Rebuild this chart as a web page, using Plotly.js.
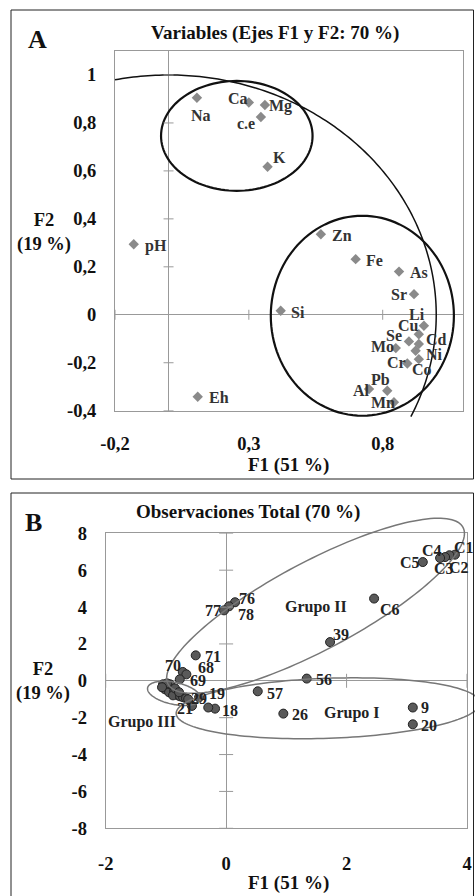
<!DOCTYPE html>
<html><head><meta charset="utf-8">
<script src="https://cdn.plot.ly/plotly-3.0.1.min.js"></script>
<style>html,body{margin:0;padding:0;background:#fff}#chart{width:475px;height:896px}</style>
</head><body><div id="chart"></div>
<script>
// ---------- Panel A: variables ----------
const varNames = ['Na','Ca','Mg','c.e','K','Zn','pH','Fe','As','Sr','Si','Eh','Li','Cu','Se','Cd','Ni','Mo','Co','Cr','Pb','Al','Mn'];
const varF1 = [0.106,0.300,0.360,0.345,0.370,0.569,-0.130,0.699,0.861,0.917,0.419,0.109,0.954,0.935,0.898,0.935,0.923,0.849,0.935,0.892,0.817,0.749,0.842];
const varF2 = [0.905,0.885,0.875,0.825,0.617,0.336,0.294,0.232,0.180,0.086,0.017,-0.342,-0.046,-0.081,-0.111,-0.122,-0.150,-0.139,-0.185,-0.203,-0.317,-0.310,-0.365];
// label offsets from the marker, in px [right, down] (style only)
const varLabelOff = [[4,18],[-11,-4],[16,1],[-15,7],[12,-9],[21,1],[22,2],[19,1],[20,1],[-15,0],[17,2],[21,1],
  [-7,-11],[-10,-9],[-15,-6],[18,-5],[19,4],[-13,-2],[3,10],[-11,-1],[-7,-11],[-8,1],[-11,0]];

// ---------- Panel B: observations ----------
const obsLabels = ['C1','C2','C3','C4','C5','C6','39','76','78','77','71','70','68','69','56','57','26','9','20','18','','21','29','19'];
const obsF1 = [3.80,3.708,3.636,3.553,3.266,2.457,1.726,0.148,0.048,-0.035,-0.505,-0.72,-0.66,-0.77,1.339,0.525,0.95,3.10,3.10,-0.184,-0.297,-0.567,-0.63,-0.45];
const obsF2 = [6.84,6.81,6.71,6.66,6.44,4.46,2.10,4.26,4.04,3.82,1.38,0.48,0.35,0.08,0.12,-0.57,-1.78,-1.45,-2.36,-1.51,-1.45,-1.36,-1.0,-0.9];
const obsLabelOff = [[9,-7],[10,12],[-1,11],[-8,-8],[-13,0],[16,11],[11,-8],[12,-4],[17,8],[-11,0],[17,1],[-10,-6],
  [20,-7],[18,1],[17,1],[17,2],[17,1],[12,0],[16,1],[15,2],[0,0],[-7,3],[11,-1],[18,-4]];
// unlabelled observations of the dense Grupo III cluster
const grp3F1 = [-1.048,-0.998,-0.965,-0.932,-0.899,-1.015,-0.948,-0.865,-0.832,-0.799,-0.882,-0.766,-0.716,-0.666,-0.932,-0.982,-0.849,-0.782,-1.065];
const grp3F2 = [-0.19,-0.30,-0.41,-0.35,-0.52,-0.46,-0.62,-0.57,-0.68,-0.79,-0.79,-0.84,-0.89,-0.95,-0.19,-0.14,-0.41,-0.62,-0.35];
const groupNames = ['Grupo II','Grupo I','Grupo III'];
const groupF1 = [1.485,2.086,-1.40];
const groupF2 = [4.0,-1.75,-2.23];

// ---------- ticks ----------
const xTickValsA = [-0.2,0.3,0.8], xTickTextA = ['-0,2','0,3','0,8'];
const yTickValsA = [-0.4,-0.2,0,0.2,0.4,0.6,0.8,1], yTickTextA = ['-0,4','-0,2','0','0,2','0,4','0,6','0,8','1'];
const xTickValsB = [-2,0,2,4], xTickTextB = ['-2','0','2','4'];
const yTickValsB = [-8,-6,-4,-2,0,2,4,6,8], yTickTextB = ['-8','-6','-4','-2','0','2','4','6','8'];

const W = 475, H = 896;
const FONT = 'Liberation Serif, Times New Roman, serif';
const axA = {x:[-0.2,1.1], y:[-0.4,1.1], dx:[115/W,463/W], dy:[(H-410.7)/H,(H-51)/H]};
const axB = {x:[-2,4], y:[-8,8], dx:[105.7/W,467/W], dy:[(H-828.3)/H,(H-533.3)/H]};

function toPaper(ax,x,y){
  return [ax.dx[0]+(x-ax.x[0])/(ax.x[1]-ax.x[0])*(ax.dx[1]-ax.dx[0]),
          ax.dy[0]+(y-ax.y[0])/(ax.y[1]-ax.y[0])*(ax.dy[1]-ax.dy[0])];
}
function pathFrom(pts,close){ return 'M'+pts.map(p=>p[0].toFixed(5)+','+p[1].toFixed(5)).join('L')+(close?'Z':''); }

const shapes = [];
// correlation circle (unit circle) arc
(function(){
  const t0 = Math.asin(-0.425), t1 = Math.acos(-0.2), pts=[];
  for(let i=0;i<=160;i++){const t=t0+(t1-t0)*i/160; pts.push(toPaper(axA,Math.cos(t),Math.sin(t)));}
  shapes.push({type:'path',xref:'paper',yref:'paper',path:pathFrom(pts,false),line:{color:'#111',width:1.5}});
})();
// group ellipses panel A (data space)
const ellA = [[0.255,0.746,0.283,0.229],[0.724,-0.004,0.342,0.417]];
ellA.forEach(e=>{
  const pts=[]; for(let i=0;i<=120;i++){const t=2*Math.PI*i/120; pts.push(toPaper(axA,e[0]+e[2]*Math.cos(t),e[1]+e[3]*Math.sin(t)));}
  shapes.push({type:'path',xref:'paper',yref:'paper',path:pathFrom(pts,true),line:{color:'#111',width:2.2}});
});
// group ellipses panel B: centre in data, semi-axes in px, tilt in degrees
const ellB = [[1.485,4.07,167,44,-28],[1.693,-1.49,152,30,-2],[-0.865,-0.68,27,11,12]];
ellB.forEach(e=>{
  const c=toPaper(axB,e[0],e[1]), th=e[4]*Math.PI/180, pts=[];
  for(let i=0;i<=160;i++){const t=2*Math.PI*i/160, ex=e[2]*Math.cos(t), ey=e[3]*Math.sin(t);
    const rx=ex*Math.cos(th)-ey*Math.sin(th), ry=ex*Math.sin(th)+ey*Math.cos(th);
    pts.push([c[0]+rx/W,c[1]-ry/H]);}
  shapes.push({type:'path',xref:'paper',yref:'paper',path:pathFrom(pts,true),line:{color:'#777',width:1.5}});
});
// tick marks crossing the zero axes
function axisTicks(xr,yr,yvals,xvals,len){
  yvals.forEach(v=>{ if(v!==0) shapes.push({type:'line',xref:xr,yref:yr,xsizemode:'pixel',xanchor:0,x0:-len,x1:len,y0:v,y1:v,line:{color:'#999',width:1}}); });
  xvals.forEach(v=>{ if(v!==0) shapes.push({type:'line',xref:xr,yref:yr,ysizemode:'pixel',yanchor:0,y0:-len,y1:len,x0:v,x1:v,line:{color:'#999',width:1}}); });
}
axisTicks('x','y',yTickValsA,xTickValsA,5);
axisTicks('x2','y2',yTickValsB,xTickValsB,7);
// panel frames
shapes.push({type:'rect',xref:'paper',yref:'paper',x0:11/W,x1:473.5/W,y0:1-479/H,y1:1-10/H,line:{color:'#222',width:1}});
shapes.push({type:'rect',xref:'paper',yref:'paper',x0:11/W,x1:473.5/W,y0:-0.01,y1:1-493/H,line:{color:'#222',width:1}});

const traces = [
  {type:'scatter',mode:'markers',x:varF1,y:varF2,cliponaxis:false,
   marker:{symbol:'diamond',size:8,color:'#8a8a8a'},xaxis:'x',yaxis:'y',hoverinfo:'skip'},
  {type:'scatter',mode:'markers',x:grp3F1,y:grp3F2,cliponaxis:false,
   marker:{symbol:'circle',size:9,color:'#555',line:{color:'#222',width:1}},xaxis:'x2',yaxis:'y2',hoverinfo:'skip'},
  {type:'scatter',mode:'markers',x:obsF1,y:obsF2,cliponaxis:false,
   marker:{symbol:'circle',size:9,color:'#5a5a5a',line:{color:'#222',width:1}},xaxis:'x2',yaxis:'y2',hoverinfo:'skip'}
];

function axis(dom,range,vals,text,anchor,standoff){
  return {domain:dom,range:range,tickmode:'array',tickvals:vals,ticktext:text,ticks:'',showgrid:false,
    zeroline:true,zerolinecolor:'#999',zerolinewidth:1,showline:true,mirror:true,linecolor:'#999',linewidth:1,
    tickfont:{family:FONT,size:18.5,color:'#111',weight:'bold'},ticklabelstandoff:standoff,anchor:anchor,fixedrange:true};
}
const ann = (x,y,text,size)=>({xref:'paper',yref:'paper',x:x/W,y:1-y/H,text:text,showarrow:false,
  xanchor:'center',yanchor:'middle',font:{family:FONT,size:size,color:'#111',weight:'bold'}});
const annotations = [
  ann(275,33,'Variables (Ejes F1 y F2: 70 %)',19),
  ann(37,40,'A',26),
  ann(288,465,'F1 (51 %)',19),
  ann(44,233,'F2<br>(19 %)',18.5),
  ann(248,512,'Observaciones Total (70 %)',19),
  ann(33,522,'B',26),
  ann(288,883,'F1 (51 %)',19),
  ann(43,681.5,'F2<br>(19 %)',18.5)
];
const lblFont = c=>({family:FONT,size:16,color:c,weight:'bold'});
varNames.forEach((n,i)=>annotations.push({xref:'x',yref:'y',x:varF1[i],y:varF2[i],text:n,showarrow:false,
  xanchor:'center',yanchor:'middle',xshift:varLabelOff[i][0],yshift:-varLabelOff[i][1],font:lblFont('#333')}));
obsLabels.forEach((n,i)=>{ if(n) annotations.push({xref:'x2',yref:'y2',x:obsF1[i],y:obsF2[i],text:n,showarrow:false,
  xanchor:'center',yanchor:'middle',xshift:obsLabelOff[i][0],yshift:-obsLabelOff[i][1],font:lblFont('#222')}); });
groupNames.forEach((g,i)=>annotations.push({xref:'x2',yref:'y2',x:groupF1[i],y:groupF2[i],text:g,showarrow:false,
  xanchor:'center',yanchor:'middle',font:lblFont('#222')}));

const layout = {
  width:W,height:H,margin:{l:0,r:0,t:0,b:0},paper_bgcolor:'#fff',plot_bgcolor:'#fff',showlegend:false,
  xaxis:axis(axA.dx,axA.x,xTickValsA,xTickTextA,'y',16),
  yaxis:axis(axA.dy,axA.y,yTickValsA,yTickTextA,'x',14),
  xaxis2:axis(axB.dx,axB.x,xTickValsB,xTickTextB,'y2',18),
  yaxis2:axis(axB.dy,axB.y,yTickValsB,yTickTextB,'x2',14),
  shapes:shapes,annotations:annotations
};
Plotly.newPlot('chart',traces,layout,{displayModeBar:false,staticPlot:true});
</script></body></html>
